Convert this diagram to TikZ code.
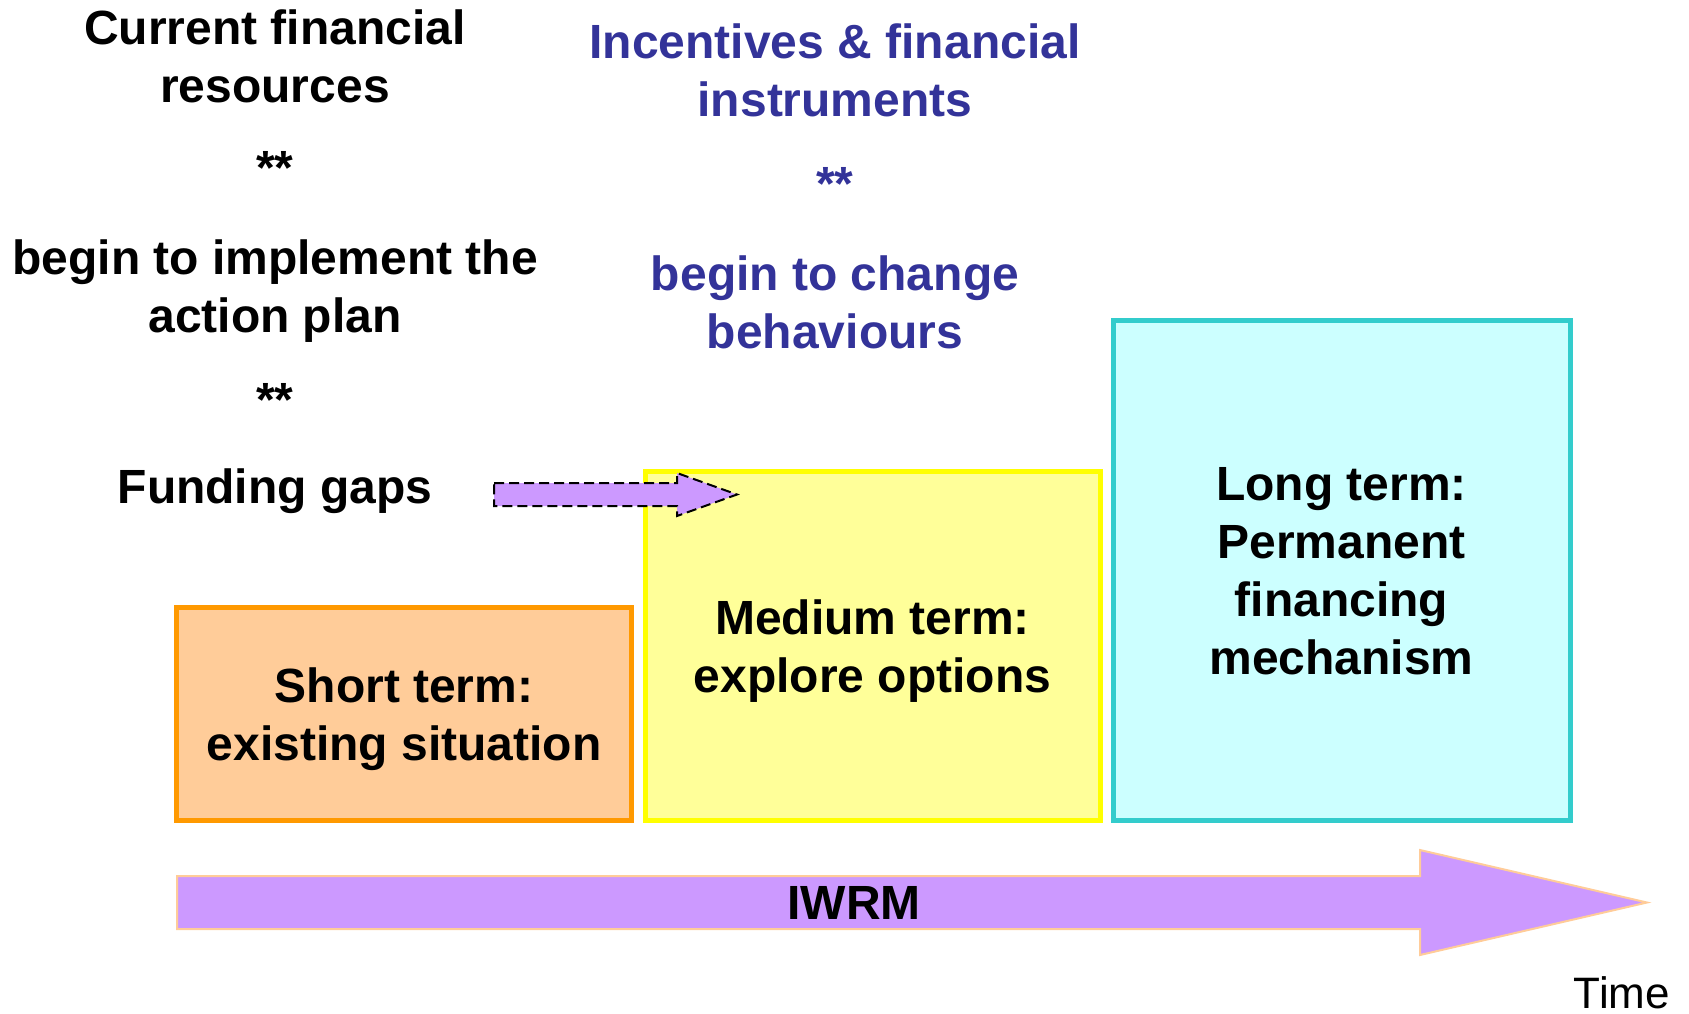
\documentclass[tikz,border=0pt]{standalone}
\usepackage{fontspec}
\setmainfont{Liberation Sans}
\usepackage{tikz}

\definecolor{navytext}{HTML}{333399}
\definecolor{shortfill}{HTML}{FFCC99}
\definecolor{shortline}{HTML}{FF9900}
\definecolor{mediumfill}{HTML}{FFFF99}
\definecolor{mediumline}{HTML}{FFFF00}
\definecolor{longfill}{HTML}{CCFFFF}
\definecolor{longline}{HTML}{33CCCC}
\definecolor{arrowfill}{HTML}{CC99FF}

\begin{document}
\begin{tikzpicture}[x=0.5bp, y=-0.5bp,
        txt/.style={align=center, font=\fontsize{24bp}{29bp}\selectfont\bfseries},
        termbox/.style={draw, line width=2.5bp, inner sep=0pt}]
        \useasboundingbox (0,0) rectangle (1689,1013);

        % Left column
        \node[txt] (curres) at (275,56) {Current financial\\resources};
        \node[txt] (stars1) at (275,168) {**};
        \node[txt] (implement) at (275,291) {begin to implement the\\action plan};
        \node[txt] (stars2) at (275,400) {**};
        \node[txt] (gaps) at (275,491) {Funding gaps};

        % Middle column
        \node[txt, text=navytext] (incent) at (835,70) {Incentives \& financial\\instruments};
        \node[txt, text=navytext] (stars3) at (835,184) {**};
        \node[txt, text=navytext] (change) at (835,302) {begin to change\\behaviours};

        % Boxes
        \node[termbox, fill=shortfill, draw=shortline, minimum width=227bp, minimum height=106.5bp]
            (short) at (404,713.5) {};
        \node[termbox, fill=mediumfill, draw=mediumline, minimum width=227.5bp, minimum height=174.5bp]
            (medium) at (872.5,645.5) {};
        \node[termbox, fill=longfill, draw=longline, minimum width=228.5bp, minimum height=250bp]
            (long) at (1341.5,570) {};
        \node[txt] (shorttxt) at ([yshift=-2.7bp]short.center) {Short term:\\existing situation};
        \node[txt] (mediumtxt) at ([yshift=-3bp]medium.center) {Medium term:\\explore options};
        \node[txt] (longtxt) at ([yshift=-0.5bp]long.center) {Long term:\\Permanent\\financing\\mechanism};

        % Arrows
        \draw[fill=arrowfill, dashed, dash pattern=on 5bp off 2.5bp, line width=1bp]
            (494,483) -- (677,483) -- (677,473) -- (737,494.5) -- (677,516) -- (677,506) -- (494,506) -- cycle;
        \draw[fill=arrowfill, draw=shortfill, line width=1bp]
            (177,876) -- (1420,876) -- (1420,850) -- (1647,902.5) -- (1420,955) -- (1420,929) -- (177,929) -- cycle;
        \node[txt] (iwrm) at (854,903) {IWRM};
        \node[inner sep=0pt, font=\fontsize{22bp}{26bp}\selectfont] (time) at (1622,993) {Time};
\end{tikzpicture}
\end{document}
